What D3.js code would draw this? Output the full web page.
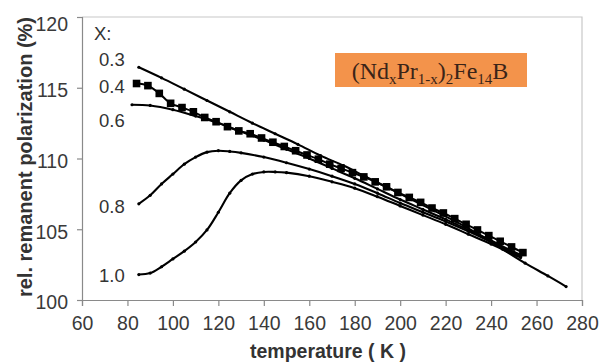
<!DOCTYPE html>
<html><head><meta charset="utf-8">
<script src="https://cdn.jsdelivr.net/npm/d3@7"></script>
<style>
body{margin:0;background:#fff;}
svg{display:block;font-family:"Liberation Sans",Arial,sans-serif;}
</style></head>
<body><svg id="c" width="599" height="362"></svg>
<script>
// ---- data ----
const xTicks = [60,80,100,120,140,160,180,200,220,240,260,280];
const yTicks = [100,105,110,115,120];

const t03 = [85,95,105,115,125,135,145,155,165,175,185,195,205,215,225,235,245,255,265,273];
const v03 = [116.45,115.7,114.9,114.1,113.3,112.5,111.75,111.0,110.2,109.5,108.7,107.9,107.1,106.3,105.5,104.6,103.6,102.6,101.7,100.95];

const t04 = [84,89,94,99,104,109,114,119,124,129,134,139,144,149,154,159,164,169,174,179,184,189,194,199,204,209,214,219,224,229,234,239,244,249,254];
const v04 = [115.3,115.15,114.6,113.9,113.6,113.3,112.9,112.6,112.25,111.95,111.75,111.45,111.15,110.85,110.55,110.25,109.95,109.6,109.3,109.0,108.7,108.35,108.0,107.6,107.25,106.9,106.5,106.15,105.75,105.35,104.95,104.55,104.15,103.75,103.35];

const t06 = [82,90,100,110,120,130,140,150,160,170,180,190,200,210,220,230,240,250,253];
const v06 = [113.8,113.75,113.45,113.0,112.5,111.9,111.3,110.65,110.0,109.3,108.6,107.85,107.1,106.4,105.7,104.95,104.2,103.4,103.2];

const t08 = [85,90,95,100,105,110,115,120,125,130,140,150,160,170,180,190,200,210,220,230,240,250,253];
const v08 = [106.8,107.4,108.2,108.9,109.6,110.1,110.45,110.55,110.5,110.4,110.1,109.7,109.25,108.75,108.2,107.55,106.85,106.2,105.55,104.85,104.1,103.3,103.1];

const t10 = [85,90,95,100,105,110,115,120,125,130,135,140,145,150,160,170,180,190,200,210,220,230,240,250,253];
const v10 = [101.8,101.9,102.35,102.9,103.45,104.1,104.95,106.2,107.55,108.45,108.9,109.05,109.05,109.0,108.75,108.35,107.9,107.3,106.65,106.0,105.35,104.65,103.95,103.2,103.0];

const seriesLabels = ["0.3","0.4","0.6","0.8","1.0"];
const labelValues = [117.0,115.1,112.7,106.6,101.7];

// ---- layout ----
const svg = d3.select("#c");
const m = {l:82, r:17, t:17, b:62};
const W = 599, H = 362;
const x = d3.scaleLinear().domain([60,280]).range([m.l, W-m.r]);
const y = d3.scaleLinear().domain([100,120]).range([H-m.b, m.t]);

// frame top/right
svg.append("path")
  .attr("d", `M${x(60)},${y(120)}H${x(280)}V${y(100)}`)
  .attr("fill","none").attr("stroke","#c8c8c8").attr("stroke-width",1.2);

const gx = svg.append("g").attr("transform",`translate(0,${y(100)})`)
  .call(d3.axisBottom(x).tickValues(xTicks).tickSize(6).tickPadding(10).tickFormat(d3.format("d")));
const gy = svg.append("g").attr("transform",`translate(${x(60)},0)`)
  .call(d3.axisLeft(y).tickValues(yTicks).tickSize(5).tickPadding(9).tickFormat(d3.format("d")));
[gx,gy].forEach(g=>{
  g.select(".domain").attr("stroke","#8a8a8a").attr("stroke-width",1.2);
  g.selectAll(".tick line").attr("stroke","#8a8a8a").attr("stroke-width",1.2);
  g.selectAll(".tick text").attr("fill","#3a3a3a").style("font-size","19.5px")
    .style("font-family","'Liberation Sans',Arial,sans-serif");
});
gy.selectAll(".tick text").attr("dy","0.45em");
gy.selectAll(".tick text").filter(d=>d===120).attr("dy","0.7em");

// axis titles
svg.append("text").attr("x", 328).attr("y", 358)
  .attr("text-anchor","middle").attr("font-weight","bold").attr("font-size","19.5px")
  .attr("fill","#333").text("temperature ( K )");
svg.append("text").attr("transform",`translate(32,157) rotate(-90)`)
  .attr("text-anchor","middle").attr("font-weight","bold").attr("font-size","20px")
  .attr("fill","#333").text("rel. remanent polarization (%)");

// lines
const line = d3.line().x(d=>x(d[0])).y(d=>y(d[1])).curve(d3.curveCatmullRom.alpha(0.5));
const zip = (a,b)=>a.map((v,i)=>[v,b[i]]);
const lineSeries = [zip(t03,v03), zip(t06,v06), zip(t08,v08), zip(t10,v10)];
svg.append("g").selectAll("path").data(lineSeries).join("path")
  .attr("d", line).attr("fill","none").attr("stroke","#000").attr("stroke-width",2.1)
  .attr("stroke-linejoin","round");
// small dash markers on lines
svg.append("g").selectAll("g").data(lineSeries).join("g")
  .selectAll("circle").data(d=>d).join("circle")
  .attr("cx",d=>x(d[0])).attr("cy",d=>y(d[1])).attr("r",1.6).attr("fill","#000");

// 0.4 squares
const sq = zip(t04,v04);
svg.append("path").attr("d", line(sq)).attr("fill","none").attr("stroke","#000").attr("stroke-width",2);
svg.append("g").selectAll("rect").data(sq).join("rect")
  .attr("x",d=>x(d[0])-3.8).attr("y",d=>y(d[1])-3.8).attr("width",7.6).attr("height",7.6)
  .attr("fill","#000");

// series labels
svg.append("text").attr("x",94).attr("y",y(118.85)).attr("dy","0.35em")
  .attr("font-size","18.5px").attr("fill","#333").text("X:");
svg.append("g").selectAll("text").data(seriesLabels).join("text")
  .attr("x",99).attr("y",(d,i)=>y(labelValues[i])).attr("dy","0.35em")
  .attr("font-size","18.5px").attr("fill","#333").text(d=>d);

// formula box
svg.append("rect").attr("x",335).attr("y",53).attr("width",192).attr("height",34).attr("fill","#f3934b");
const ft = svg.append("text").attr("x",430).attr("y",79).attr("text-anchor","middle")
  .attr("font-family","'Liberation Serif','Times New Roman',serif").attr("font-size","24px").attr("fill","#3a2418");
const parts = [["(Nd",0],["x",1],["Pr",0],["1-x",1],[")",0],["2",1],["Fe",0],["14",1],["B",0]];
parts.forEach(([s,sub],i)=>{
  const prevSub = i>0 && parts[i-1][1];
  ft.append("tspan").attr("font-size", sub? "15px":"24px")
    .attr("dy", sub ? (prevSub?0:5) : (prevSub?-5:0)).text(s);
});
</script></body></html>
